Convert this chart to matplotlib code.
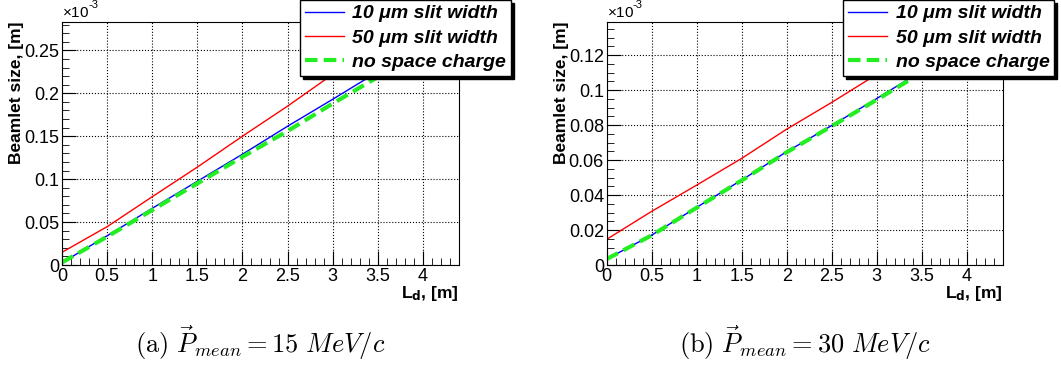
import numpy as np
import matplotlib
matplotlib.use("Agg")
import matplotlib.pyplot as plt
from matplotlib.ticker import MultipleLocator

plt.rcParams['font.family'] = ['Liberation Sans', 'DejaVu Sans']
plt.rcParams['mathtext.fontset'] = 'custom'
plt.rcParams['mathtext.rm'] = 'Liberation Sans'
plt.rcParams['mathtext.it'] = 'Liberation Sans:italic'

# drift length L_d [m]
ld = [0, 0.5, 1, 1.5, 2, 2.5, 3, 3.5, 4]

# beamlet size [x1e-3 m], P_mean = 15 MeV/c
p15_slit10 = [0.0027, 0.034, 0.066, 0.0975, 0.129, 0.1616, 0.193, 0.225, 0.257]
p15_slit50 = [0.0148, 0.0446, 0.0795, 0.114, 0.150, 0.185, 0.222, 0.260, 0.300]
p15_nosc = [0.0030, 0.033, 0.064, 0.095, 0.126, 0.156, 0.188, 0.219, 0.250]

# beamlet size [x1e-3 m], P_mean = 30 MeV/c
p30_slit10 = [0.0034, 0.0171, 0.0330, 0.0486, 0.0648, 0.0798, 0.0952, 0.111, 0.127]
p30_slit50 = [0.0147, 0.0307, 0.0457, 0.0610, 0.0777, 0.0930, 0.109, 0.125, 0.141]
p30_nosc = [0.0034, 0.0170, 0.0328, 0.0484, 0.0645, 0.0794, 0.0945, 0.110, 0.125]

labels = ['10 \u03bcm slit width', '50 \u03bcm slit width', 'no space charge']
captions = [r'$\mathrm{(a)}\ \vec{P}_{mean} = 15\ MeV/c$',
            r'$\mathrm{(b)}\ \vec{P}_{mean} = 30\ MeV/c$']

W, H = 1061, 369
fig = plt.figure(figsize=(W/100, H/100), dpi=100)

panels = [
    (62, 459, p15_slit10, p15_slit50, p15_nosc, 0.283, 0.05, 0.01, 300),
    (606.7, 1002.7, p30_slit10, p30_slit50, p30_nosc, 0.139, 0.02, 0.005, 843),
]

for i, (x0, x1, s10, s50, nsc, ymax, ymaj, ymin, legx) in enumerate(panels):
    ax = fig.add_axes([x0/W, 1-265/H, (x1-x0)/W, 243/H])
    ax.plot(ld, s10, color='blue', lw=1)
    ax.plot(ld, s50, color='red', lw=1)
    ax.plot(ld, nsc, color='#22ee22', lw=3, ls=(0, (3, 1.5)))
    ax.set_xlim(0, 4.4)
    ax.set_ylim(0, ymax)
    ax.xaxis.set_major_locator(MultipleLocator(0.5))
    ax.xaxis.set_minor_locator(MultipleLocator(0.1))
    ax.yaxis.set_major_locator(MultipleLocator(ymaj))
    ax.yaxis.set_minor_locator(MultipleLocator(ymin))
    ax.xaxis.set_major_formatter(lambda v, p: f'{v:g}')
    ax.yaxis.set_major_formatter(lambda v, p: f'{v:g}')
    ax.tick_params(which='both', direction='in', top=False, right=False,
                   labelsize=13, pad=2)
    ax.tick_params(which='major', length=10)
    ax.tick_params(which='minor', length=5)
    ax.grid(True, which='major', ls=':', color='black', lw=0.8)
    ax.set_axisbelow(True)
    ax.set_ylabel('Beamlet size, [m]', fontsize=12.5, fontweight='bold', loc='top')
    ax.yaxis.set_label_coords(-0.096, 1.0)
    ax.set_xlabel(r'L$_\mathbf{d}$, [m]', fontsize=12.5, fontweight='bold', loc='right')
    ax.xaxis.set_label_coords(1.0, -0.08)
    ax.text(0, 1.01, r'$\times$10', transform=ax.transAxes, fontsize=11,
            va='bottom', ha='left')
    ax.text(0.066, 1.05, '-3', transform=ax.transAxes, fontsize=8,
            va='bottom', ha='left')

    leg = fig.legend(ax.get_lines(), labels, loc='upper left',
                     bbox_to_anchor=(legx/W, 1.0), borderaxespad=0,
                     prop={'weight': 'bold', 'style': 'italic', 'size': 14},
                     fancybox=False, edgecolor='black', framealpha=1,
                     borderpad=0.25, labelspacing=0.35, handlelength=2.0,
                     handletextpad=0.45,
                     shadow={'color': 'black', 'alpha': 1})
    leg.get_frame().set_linewidth(1.0)

    fig.text((x0+x1)/2/W, 1-343/H, captions[i], fontsize=19,
             ha='center', va='center', math_fontfamily='cm')

fig.savefig('out.png', dpi=100)
